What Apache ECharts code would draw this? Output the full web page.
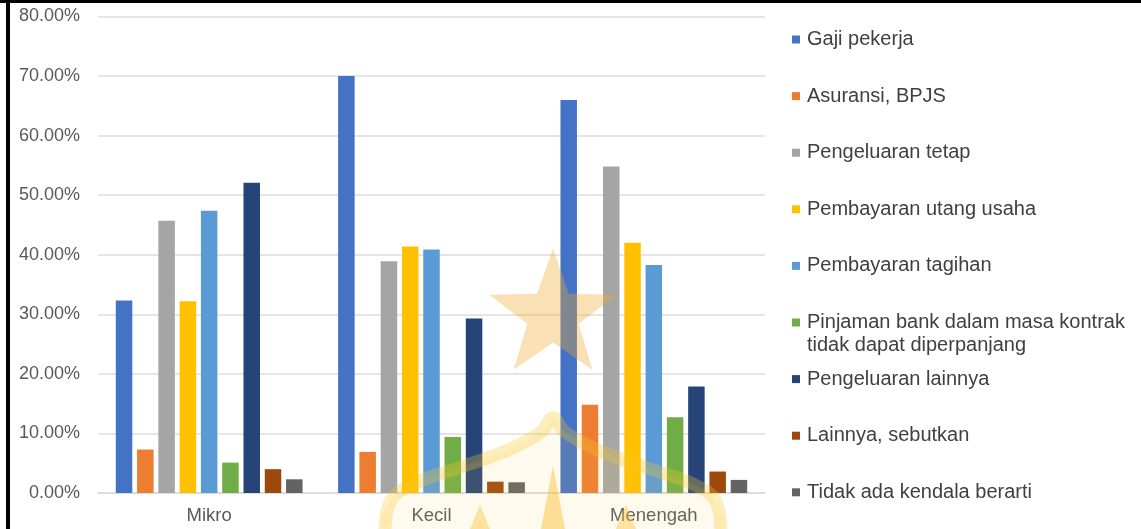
<!DOCTYPE html>
<html>
<head>
<meta charset="utf-8">
<script src="https://cdn.jsdelivr.net/npm/echarts@6/dist/echarts.min.js"></script>
<style>
html,body{margin:0;padding:0;background:#fff;}
#chart{width:1141px;height:529px;}
</style>
</head>
<body>
<div id="chart"></div>
<script>
const categories = ['Mikro', 'Kecil', 'Menengah'];
const seriesNames = [
  'Gaji pekerja',
  'Asuransi, BPJS',
  'Pengeluaran tetap',
  'Pembayaran utang usaha',
  'Pembayaran tagihan',
  'Pinjaman bank dalam masa kontrak\ntidak dapat diperpanjang',
  'Pengeluaran lainnya',
  'Lainnya, sebutkan',
  'Tidak ada kendala berarti'
];
const gajiPekerja = [32.3, 70.0, 66.0];
const asuransiBPJS = [7.3, 6.9, 14.8];
const pengeluaranTetap = [45.7, 38.9, 54.8];
const utangUsaha = [32.2, 41.4, 42.0];
const tagihan = [47.4, 40.9, 38.3];
const pinjamanBank = [5.1, 9.4, 12.7];
const pengeluaranLainnya = [52.1, 29.3, 17.9];
const lainnyaSebutkan = [4.0, 1.9, 3.6];
const tidakAdaKendala = [2.3, 1.8, 2.2];
const yTicks = [0, 10, 20, 30, 40, 50, 60, 70, 80];

const seriesValues = [gajiPekerja, asuransiBPJS, pengeluaranTetap, utangUsaha, tagihan,
  pinjamanBank, pengeluaranLainnya, lainnyaSebutkan, tidakAdaKendala];
const colors = ['#4472C4', '#ED7D31', '#A5A5A5', '#FFC000', '#5B9BD5', '#70AD47', '#264478', '#9E480E', '#636363'];

const chart = echarts.init(document.getElementById('chart'), null, {renderer: 'canvas'});

const FONT = '"Liberation Sans", Arial, sans-serif';
const legendLH = 24;
const legends = seriesNames.map(function (name, i) {
  const center = 39.5 + i * 56.6;
  const multi = name.indexOf('\n') >= 0;
  const lh = multi ? 23 : legendLH;
  const h = multi ? lh * 3 : lh;
  return {
    orient: 'vertical',
    left: 792,
    top: center - h / 2,
    padding: 0,
    icon: 'rect',
    itemWidth: 8,
    itemHeight: 8,
    selectedMode: false,
    data: [name],
    formatter: multi ? function (n) { return ' \n' + n; } : undefined,
    textStyle: {
      fontFamily: FONT,
      fontSize: 20,
      color: '#404040',
      lineHeight: lh,
      padding: [0, 0, 0, 2]
    }
  };
});

// watermark star
function starPoints(cx, cy, R, r) {
  const pts = [];
  for (let k = 0; k < 10; k++) {
    const ang = -Math.PI / 2 + k * Math.PI / 5;
    const rad = k % 2 === 0 ? R : r;
    pts.push([cx + rad * Math.cos(ang), cy + rad * Math.sin(ang)]);
  }
  return pts;
}
const domeHalf = [[0, 0], [-12, 14], [-45, 32], [-95, 50], [-140, 66], [-162, 82], [-168, 111]];
const domePts = domeHalf.slice().reverse().map(function (p) { return [553 + p[0], 418 + p[1]]; })
  .concat(domeHalf.slice(1).map(function (p) { return [553 - p[0], 418 + p[1]]; }));

const option = {
  backgroundColor: '#ffffff',
  animation: false,
  color: colors,
  grid: {left: 98, right: 376, top: 16.5, bottom: 36, containLabel: false},
  legend: legends,
  xAxis: {
    type: 'category',
    data: categories,
    axisLine: {show: true, lineStyle: {color: '#d9d9d9', width: 1.5}},
    axisTick: {show: false},
    axisLabel: {fontFamily: FONT, fontSize: 18.5, color: '#595959', margin: 13}
  },
  yAxis: {
    type: 'value',
    min: yTicks[0],
    max: yTicks[yTicks.length - 1],
    interval: 10,
    axisLine: {show: false},
    axisTick: {show: false},
    splitLine: {lineStyle: {color: '#dcdcdc', width: 1.5}},
    axisLabel: {
      fontFamily: FONT, fontSize: 18, color: '#595959', margin: 18,
      formatter: function (v) { return v.toFixed(2) + '%'; }
    }
  },
  series: seriesNames.map(function (name, i) {
    return {
      name: name,
      type: 'bar',
      data: seriesValues[i],
      barGap: '29%',
      barCategoryGap: '16%',
      itemStyle: {color: colors[i]}
    };
  }),
  graphic: [
    {type: 'rect', shape: {x: 0, y: 0, width: 1141, height: 3}, style: {fill: '#000'}, z: 200},
    {type: 'rect', shape: {x: 6, y: 0, width: 4, height: 529}, style: {fill: '#000'}, z: 200},
    {type: 'polygon', shape: {points: starPoints(553, 315.5, 67, 27)}, style: {fill: 'rgba(240,170,50,0.36)'}, z: 150, silent: true},
    {type: 'polyline', shape: {points: domePts, smooth: 0.4}, style: {stroke: 'rgba(250,200,40,0.30)', lineWidth: 13, fill: 'none'}, z: 150, silent: true},
    {type: 'polygon', shape: {points: domePts, smooth: 0.4}, style: {fill: 'rgba(250,205,80,0.10)'}, z: 149, silent: true},
    {type: 'polygon', shape: {points: [[553, 466], [541, 529], [565, 529]]}, style: {fill: 'rgba(250,190,40,0.45)'}, z: 150, silent: true},
    {type: 'polygon', shape: {points: [[480, 505], [470, 529], [490, 529]]}, style: {fill: 'rgba(250,190,40,0.40)'}, z: 150, silent: true},
    {type: 'polygon', shape: {points: [[626, 505], [616, 529], [636, 529]]}, style: {fill: 'rgba(250,190,40,0.40)'}, z: 150, silent: true}
  ]
};
chart.setOption(option);
</script>
</body>
</html>
